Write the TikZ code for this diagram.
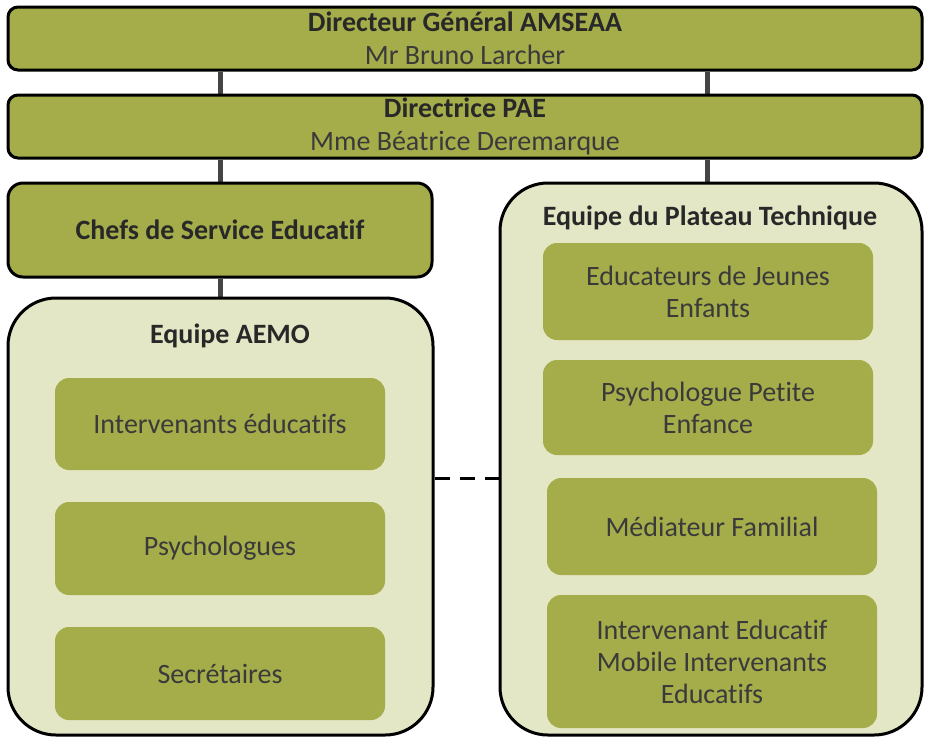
\documentclass[tikz,border=0pt]{standalone}
\usepackage{fontspec}
\setmainfont[RawFeature={-liga;-dlig;-clig}]{Carlito}
\usetikzlibrary{backgrounds}
\definecolor{olive}{RGB}{165,173,74}
\definecolor{pale}{RGB}{228,231,197}
\definecolor{txt}{RGB}{58,58,58}
\definecolor{btxt}{RGB}{40,40,40}
\definecolor{conn}{RGB}{68,68,68}
\tikzset{
  topbox/.style={draw=black, line width=3pt, fill=olive, rounded corners=10pt, inner sep=0pt, align=center, text=txt, font=\fontsize{28}{33}\selectfont},
  chefbox/.style={draw=black, line width=3pt, fill=olive, rounded corners=15pt, inner sep=0pt, align=center, text=btxt, font=\fontsize{28}{33}\selectfont\bfseries},
  team/.style={draw=black, line width=3pt, fill=pale, rounded corners=48pt, inner sep=0pt},
  teamtitle/.style={text=btxt, font=\fontsize{28}{33}\selectfont\bfseries, inner sep=0pt},
  inner/.style={fill=olive, rounded corners=14pt, inner sep=0pt, align=center, text=txt, font=\fontsize{28}{32}\selectfont},
  link/.style={draw=conn, line width=5pt},
  dlink/.style={draw=black, line width=3pt, dash pattern=on 15pt off 10pt},
}
\begin{document}
\begin{tikzpicture}[x=1pt,y=-1pt]
\useasboundingbox (0,0) rectangle (925,737);
\node[topbox, minimum width=914pt, minimum height=63pt] (dg) at (465,38.5)
  {{\bfseries\color{btxt}Directeur Général AMSEAA}\\Mr Bruno Larcher};
\node[topbox, minimum width=914pt, minimum height=63pt] (dp) at (465,126.5)
  {{\bfseries\color{btxt}Directrice PAE}\\Mme Béatrice Deremarque};
\node[chefbox, minimum width=424pt, minimum height=94pt] (chef) at (220,230) {Chefs de Service Educatif};
\node[team, minimum width=425pt, minimum height=437pt] (aemo) at (220.5,516.5) {};
\node[team, minimum width=422pt, minimum height=552pt] (pt) at (711,459) {};
\node[teamtitle] (aemot) at (230,336) {Equipe AEMO};
\node[teamtitle] (ptt) at (710,218) {Equipe du Plateau Technique};
\node[inner, minimum width=330pt, minimum height=92pt] (i1) at (220,424) {Intervenants éducatifs};
\node[inner, minimum width=330pt, minimum height=93pt] (i2) at (220,548.5) {Psychologues};
\node[inner, minimum width=330pt, minimum height=93pt] (i3) at (220,673.5) {Secrétaires};
\node[inner, minimum width=330pt, minimum height=97pt] (p1) at (708,291.5) {Educateurs de Jeunes\\Enfants};
\node[inner, minimum width=330pt, minimum height=95pt] (p2) at (708,407.5) {Psychologue Petite\\Enfance};
\node[inner, minimum width=330pt, minimum height=97pt] (p3) at (712,526.5) {Médiateur Familial};
\node[inner, minimum width=330pt, minimum height=133pt] (p4) at (712,661.5) {Intervenant Educatif\\Mobile Intervenants\\Educatifs};
\coordinate (cl) at (220,0);
\coordinate (cr) at (707,0);
\coordinate (dy) at (0,478);
\begin{scope}[on background layer]
\draw[link] (dg.south -| cl) -- (dp.north -| cl);
\draw[link] (dg.south -| cr) -- (dp.north -| cr);
\draw[link] (dp.south -| cl) -- (chef.north -| cl);
\draw[link] (dp.south -| cr) -- (pt.north -| cr);
\draw[link] (chef.south -| cl) -- (aemo.north -| cl);
\end{scope}
\draw[dlink] (aemo.east |- dy) -- (pt.west |- dy);
\end{tikzpicture}
\end{document}
